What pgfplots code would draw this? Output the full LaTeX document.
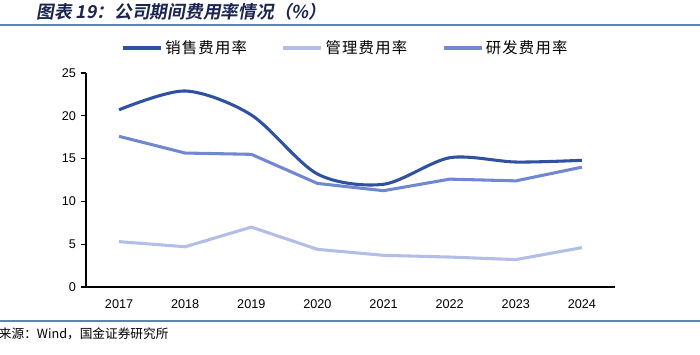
\documentclass[border=0pt]{standalone}
\usepackage{pgfplots}
\pgfplotsset{compat=1.18}
\usepackage{fontspec}
\setmainfont{Liberation Sans}
\newfontfamily\cjk{Noto Sans CJK SC}
\newfontfamily\cjkl[LetterSpace=8]{Noto Sans CJK SC}
\newfontfamily\cjkb[FakeSlant=0.18]{Noto Sans CJK SC Bold}
\definecolor{sales}{HTML}{2F52A0}
\definecolor{mgmt}{HTML}{B3BEE6}
\definecolor{rnd}{HTML}{7088D0}
\definecolor{rulec}{HTML}{5A86B5}
\definecolor{titlec}{HTML}{1A2550}
\begin{document}
\begin{tikzpicture}
\useasboundingbox (0,0) rectangle (525pt,265.5pt);
\node[anchor=west,inner sep=0pt,text=titlec] at (27pt,256.5pt) {\cjkb\fontsize{13.3}{15}\selectfont 图表 19：公司期间费用率情况（\%）};
\draw[rulec,line width=1.2pt] (0,246.75pt) -- (525pt,246.75pt);
\draw[rulec,line width=0.8pt] (0,24.75pt) -- (525pt,24.75pt);
\node[anchor=west,inner sep=0pt] at (-1pt,15.5pt) {\cjk\fontsize{9.5}{11}\selectfont 来源：Wind，国金证券研究所};
\begin{axis}[
  at={(64.5pt,50.25pt)}, anchor=south west,
  scale only axis, width=396.75pt, height=160.5pt,
  xmin=-0.5, xmax=7.5, ymin=0, ymax=25,
  axis x line*=bottom, axis y line*=left,
  axis line style={black, line width=1pt},
  xtick={0,...,7},
  xticklabels={2017,2018,2019,2020,2021,2022,2023,2024},
  major x tick style={draw=none},
  extra x ticks={-0.5,0.5,...,7.5},
  extra x tick labels={},
  extra x tick style={tick style={black,line width=0.8pt}, major tick length=4pt},
  ytick={0,5,...,25},
  tick align=outside,
  major tick length=4pt,
  y tick style={black,line width=0.8pt},
  tick label style={font=\fontsize{9.5}{11}\selectfont},
  /pgf/number format/assume math mode=true,
  xticklabel style={yshift=-2pt},
  legend columns=3,
  legend style={draw=none, at={(0.491,1.117)}, anchor=center,
    font=\cjkl\fontsize{11.5}{13}\selectfont,
    /tikz/every even column/.append style={column sep=24pt}},
  legend image code/.code={\draw[#1,line width=2.5pt] (0pt,0pt) -- (28.5pt,0pt);},
]
\addplot[sales, line width=2.3pt, smooth, tension=0.5] coordinates {(0,20.7) (1,22.9) (2,20.1) (3,13.2) (4,12.0) (5,15.1) (6,14.6) (7,14.8)};
\addlegendentry{销售费用率}
\addplot[mgmt, line width=2.3pt] coordinates {(0,5.3) (1,4.7) (2,7.0) (3,4.4) (4,3.7) (5,3.5) (6,3.2) (7,4.6)};
\addlegendentry{管理费用率}
\addplot[rnd, line width=2.3pt] coordinates {(0,17.6) (1,15.65) (2,15.5) (3,12.1) (4,11.25) (5,12.6) (6,12.4) (7,14.0)};
\addlegendentry{研发费用率}
\end{axis}
\end{tikzpicture}
\end{document}
